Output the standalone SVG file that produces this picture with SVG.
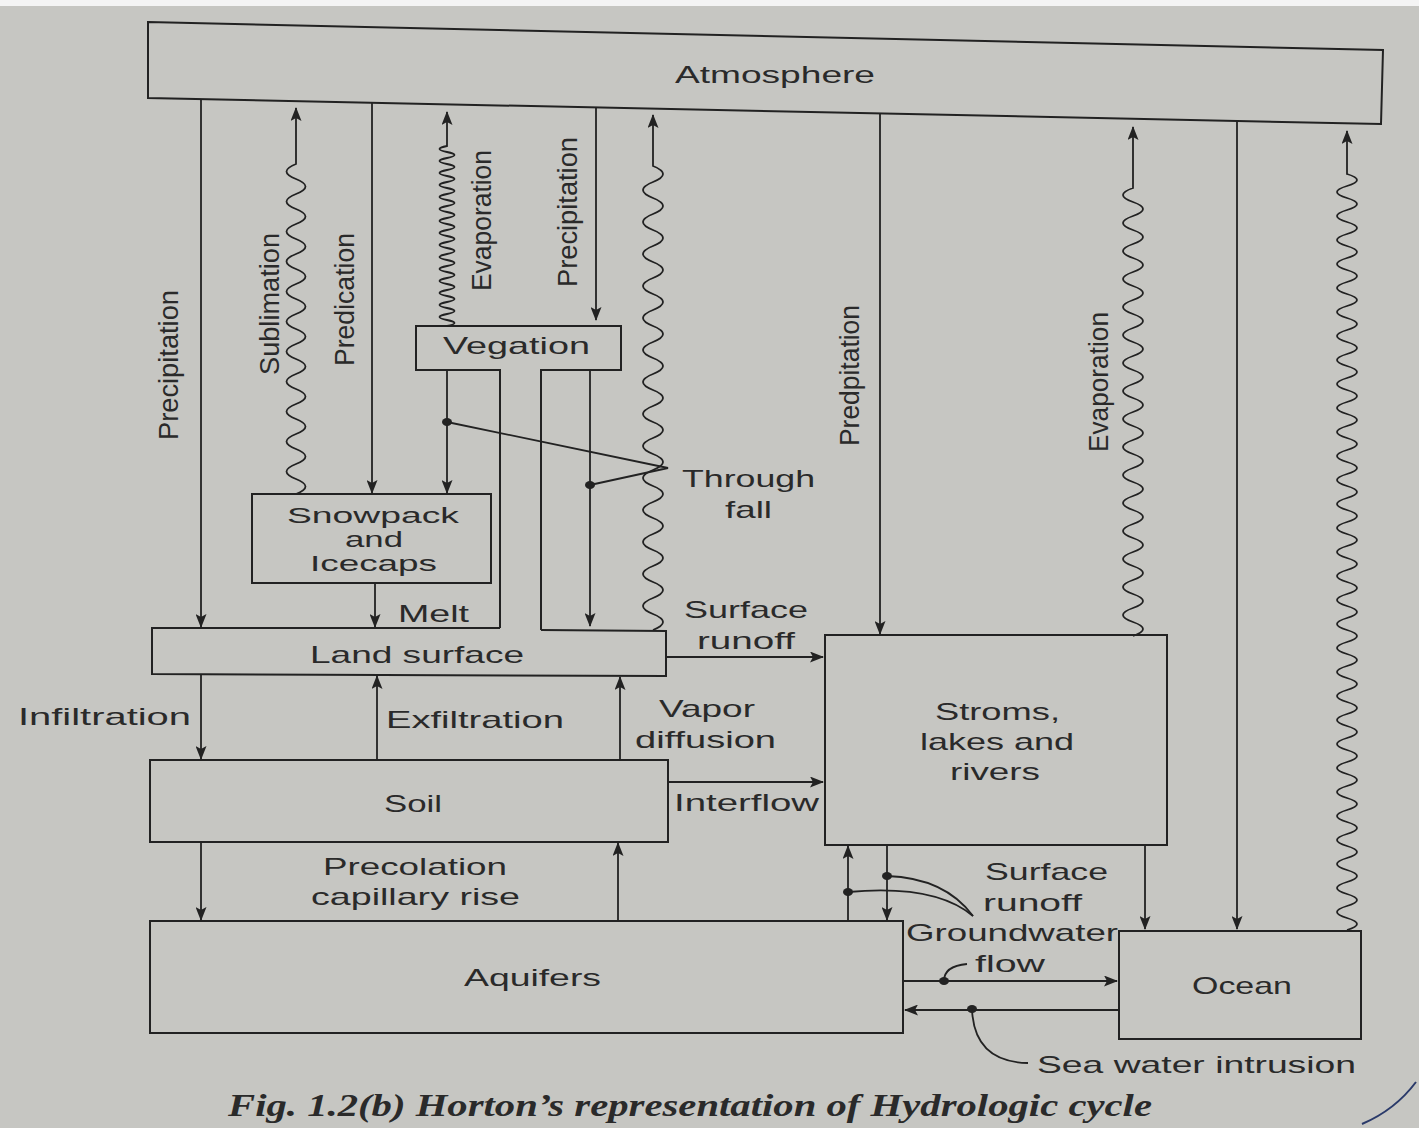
<svg xmlns="http://www.w3.org/2000/svg" width="1419" height="1128" viewBox="0 0 1419 1128">
<style>
.bx{fill:none;stroke:#222;stroke-width:2}
.ln{fill:none;stroke:#222;stroke-width:1.8}
.ar{marker-end:url(#ah)}
.wv{fill:none;stroke:#222;stroke-width:1.8;marker-end:url(#ah)}
.t{font-family:"Liberation Sans",Arial,sans-serif;font-size:24px;fill:#2a2a2a}
.s{font-size:22px}
.r{font-family:"Liberation Sans",Arial,sans-serif;font-size:27px;fill:#2a2a2a}
.dot{fill:#222}
.cap{font-family:"Liberation Serif","Times New Roman",serif;font-style:italic;font-weight:bold;font-size:31px;fill:#2a2a2a}
</style>
<defs>
<marker id="ah" viewBox="0 0 14 11" refX="13" refY="5.5" markerWidth="14" markerHeight="11" orient="auto" markerUnits="userSpaceOnUse">
<path d="M0,0 L14,5.5 L0,11 L3,5.5 Z" fill="#222"/>
</marker>
</defs>
<rect x="0" y="0" width="1419" height="1128" fill="#c6c6c2"/>
<rect x="0" y="0" width="1419" height="6" fill="#f4f4f4"/>

<g id="atmosphere">
<path class="bx" d="M148,22 L1383,50 L1381,124 L148,98 Z"/>
<text class="t" x="675" y="83" textLength="200" lengthAdjust="spacingAndGlyphs">Atmosphere</text>
</g>

<g id="vegetation">
<path class="bx" d="M500,628 V370 H416 V326 H621 V370 H541 V630"/>
<text class="t" x="443" y="354" textLength="147" lengthAdjust="spacingAndGlyphs">Vegation</text>
</g>

<g id="snowpack">
<rect class="bx" x="252" y="494" width="239" height="89"/>
<text class="t s" x="287" y="523" textLength="172" lengthAdjust="spacingAndGlyphs">Snowpack</text>
<text class="t s" x="345" y="547" textLength="58" lengthAdjust="spacingAndGlyphs">and</text>
<text class="t s" x="310" y="571" textLength="127" lengthAdjust="spacingAndGlyphs">Icecaps</text>
</g>

<g id="land-surface">
<path class="bx" d="M500,628 H152 V674 L666,676 V631 L541,630"/>
<text class="t" x="310" y="663" textLength="214" lengthAdjust="spacingAndGlyphs">Land surface</text>
</g>

<g id="soil">
<rect class="bx" x="150" y="760" width="518" height="82"/>
<text class="t" x="384" y="812" textLength="58" lengthAdjust="spacingAndGlyphs">Soil</text>
</g>

<g id="aquifers">
<rect class="bx" x="150" y="921" width="753" height="112"/>
<text class="t" x="464" y="986" textLength="137" lengthAdjust="spacingAndGlyphs">Aquifers</text>
</g>

<g id="streams">
<rect class="bx" x="825" y="635" width="342" height="210"/>
<text class="t" x="935" y="720" textLength="125" lengthAdjust="spacingAndGlyphs">Stroms,</text>
<text class="t" x="920" y="750" textLength="154" lengthAdjust="spacingAndGlyphs">lakes and</text>
<text class="t" x="950" y="780" textLength="90" lengthAdjust="spacingAndGlyphs">rivers</text>
</g>

<g id="ocean">
<rect class="bx" x="1119" y="931" width="242" height="108"/>
<text class="t" x="1192" y="994" textLength="100" lengthAdjust="spacingAndGlyphs">Ocean</text>
</g>

<g id="connectors">
<line class="ln ar" x1="201" y1="99" x2="201" y2="627"/>
<line class="ln ar" x1="372" y1="103" x2="372" y2="493"/>
<line class="ln ar" x1="596" y1="107" x2="596" y2="320"/>
<line class="ln ar" x1="880" y1="113" x2="880" y2="634"/>
<line class="ln ar" x1="1237" y1="121" x2="1237" y2="929"/>
<path class="wv" d="M296,494 q19,-7.5 0,-15 t0,-15 t0,-15 t0,-15 t0,-15 t0,-15 t0,-15 t0,-15 t0,-15 t0,-15 t0,-15 t0,-15 t0,-15 t0,-15 t0,-15 t0,-15 t0,-15 t0,-15 t0,-15 t0,-15 t0,-15 t0,-15 V108"/>
<path class="wv" d="M447,326 q15,-3 0,-6 t0,-6 t0,-6 t0,-6 t0,-6 t0,-6 t0,-6 t0,-6 t0,-6 t0,-6 t0,-6 t0,-6 t0,-6 t0,-6 t0,-6 t0,-6 t0,-6 t0,-6 t0,-6 t0,-6 t0,-6 t0,-6 t0,-6 t0,-6 t0,-6 t0,-6 t0,-6 t0,-6 t0,-6 t0,-6 V112"/>
<path class="wv" d="M653,630 q20,-8 0,-16 t0,-16 t0,-16 t0,-16 t0,-16 t0,-16 t0,-16 t0,-16 t0,-16 t0,-16 t0,-16 t0,-16 t0,-16 t0,-16 t0,-16 t0,-16 t0,-16 t0,-16 t0,-16 t0,-16 t0,-16 t0,-16 t0,-16 t0,-16 t0,-16 t0,-16 t0,-16 t0,-16 t0,-16 V115"/>
<path class="wv" d="M1133,636 q20,-7 0,-14 t0,-14 t0,-14 t0,-14 t0,-14 t0,-14 t0,-14 t0,-14 t0,-14 t0,-14 t0,-14 t0,-14 t0,-14 t0,-14 t0,-14 t0,-14 t0,-14 t0,-14 t0,-14 t0,-14 t0,-14 t0,-14 t0,-14 t0,-14 t0,-14 t0,-14 t0,-14 t0,-14 t0,-14 t0,-14 t0,-14 t0,-14 V127"/>
<path class="wv" d="M1347,930 q20,-6 0,-12 t0,-12 t0,-12 t0,-12 t0,-12 t0,-12 t0,-12 t0,-12 t0,-12 t0,-12 t0,-12 t0,-12 t0,-12 t0,-12 t0,-12 t0,-12 t0,-12 t0,-12 t0,-12 t0,-12 t0,-12 t0,-12 t0,-12 t0,-12 t0,-12 t0,-12 t0,-12 t0,-12 t0,-12 t0,-12 t0,-12 t0,-12 t0,-12 t0,-12 t0,-12 t0,-12 t0,-12 t0,-12 t0,-12 t0,-12 t0,-12 t0,-12 t0,-12 t0,-12 t0,-12 t0,-12 t0,-12 t0,-12 t0,-12 t0,-12 t0,-12 t0,-12 t0,-12 t0,-12 t0,-12 t0,-12 t0,-12 t0,-12 t0,-12 t0,-12 t0,-12 t0,-12 t0,-12 V131"/>
<line class="ln ar" x1="447" y1="370" x2="447" y2="493"/>
<line class="ln ar" x1="590" y1="370" x2="590" y2="626"/>
<ellipse class="dot" cx="447" cy="422" rx="5" ry="4"/>
<ellipse class="dot" cx="590" cy="485" rx="5" ry="4"/>
<path class="ln" d="M447,422 L668,468 L590,485"/>
<line class="ln ar" x1="375" y1="583" x2="375" y2="627"/>
<line class="ln ar" x1="201" y1="674" x2="201" y2="759"/>
<line class="ln ar" x1="377" y1="760" x2="377" y2="676"/>
<line class="ln ar" x1="620" y1="761" x2="620" y2="677"/>
<line class="ln ar" x1="201" y1="842" x2="201" y2="920"/>
<line class="ln ar" x1="618" y1="921" x2="618" y2="843"/>
<line class="ln ar" x1="666" y1="657" x2="823" y2="657"/>
<line class="ln ar" x1="668" y1="782" x2="823" y2="782"/>
<line class="ln ar" x1="848" y1="921" x2="848" y2="846"/>
<line class="ln ar" x1="887" y1="845" x2="887" y2="920"/>
<ellipse class="dot" cx="887" cy="876" rx="5" ry="4"/>
<ellipse class="dot" cx="848" cy="892" rx="5" ry="4"/>
<path class="ln" d="M887,876 Q945,878 973,916"/>
<path class="ln" d="M848,892 Q935,884 973,916"/>
<line class="ln ar" x1="1145" y1="845" x2="1145" y2="929"/>
<line class="ln ar" x1="903" y1="981" x2="1117" y2="981"/>
<line class="ln ar" x1="1119" y1="1010" x2="905" y2="1010"/>
<ellipse class="dot" cx="944" cy="981" rx="5" ry="4"/>
<ellipse class="dot" cx="972" cy="1009" rx="5" ry="4"/>
<path class="ln" d="M944,981 Q944,966 967,964"/>
<path class="ln" d="M972,1009 Q974,1062 1028,1063"/>

<text class="r" transform="translate(178,440) rotate(-90)" textLength="150" lengthAdjust="spacingAndGlyphs">Precipitation</text>
<text class="r" transform="translate(279,375) rotate(-90)" textLength="142" lengthAdjust="spacingAndGlyphs">Sublimation</text>
<text class="r" transform="translate(354,366) rotate(-90)" textLength="133" lengthAdjust="spacingAndGlyphs">Predication</text>
<text class="r" transform="translate(491,291) rotate(-90)" textLength="141" lengthAdjust="spacingAndGlyphs">Evaporation</text>
<text class="r" transform="translate(577,287) rotate(-90)" textLength="150" lengthAdjust="spacingAndGlyphs">Precipitation</text>
<text class="r" transform="translate(859,446) rotate(-90)" textLength="141" lengthAdjust="spacingAndGlyphs">Predpitation</text>
<text class="r" transform="translate(1108,452) rotate(-90)" textLength="140" lengthAdjust="spacingAndGlyphs">Evaporation</text>

<text class="t" x="398" y="622" textLength="71" lengthAdjust="spacingAndGlyphs">Melt</text>
<text class="t" x="682" y="487" textLength="133" lengthAdjust="spacingAndGlyphs">Through</text>
<text class="t" x="725" y="518" textLength="47" lengthAdjust="spacingAndGlyphs">fall</text>
<text class="t" x="684" y="618" textLength="124" lengthAdjust="spacingAndGlyphs">Surface</text>
<text class="t" x="697" y="649" textLength="98" lengthAdjust="spacingAndGlyphs">runoff</text>
<text class="t" x="18" y="725" textLength="173" lengthAdjust="spacingAndGlyphs">Infiltration</text>
<text class="t" x="386" y="728" textLength="178" lengthAdjust="spacingAndGlyphs">Exfiltration</text>
<text class="t" x="659" y="717" textLength="96" lengthAdjust="spacingAndGlyphs">Vapor</text>
<text class="t" x="635" y="748" textLength="141" lengthAdjust="spacingAndGlyphs">diffusion</text>
<text class="t" x="674" y="811" textLength="145" lengthAdjust="spacingAndGlyphs">Interflow</text>
<text class="t" x="323" y="875" textLength="184" lengthAdjust="spacingAndGlyphs">Precolation</text>
<text class="t" x="311" y="905" textLength="209" lengthAdjust="spacingAndGlyphs">capillary rise</text>
<text class="t" x="985" y="880" textLength="123" lengthAdjust="spacingAndGlyphs">Surface</text>
<text class="t" x="983" y="911" textLength="99" lengthAdjust="spacingAndGlyphs">runoff</text>
<text class="t" x="906" y="941" textLength="212" lengthAdjust="spacingAndGlyphs">Groundwater</text>
<text class="t" x="975" y="972" textLength="70" lengthAdjust="spacingAndGlyphs">flow</text>
<text class="t" x="1037" y="1073" textLength="319" lengthAdjust="spacingAndGlyphs">Sea water intrusion</text>
</g>

<text class="cap" x="228" y="1116" textLength="924" lengthAdjust="spacingAndGlyphs">Fig. 1.2(b) Horton’s representation of Hydrologic cycle</text>
<path d="M1362,1124 Q1395,1110 1416,1082" fill="none" stroke="#2a3a6a" stroke-width="2"/>
</svg>
